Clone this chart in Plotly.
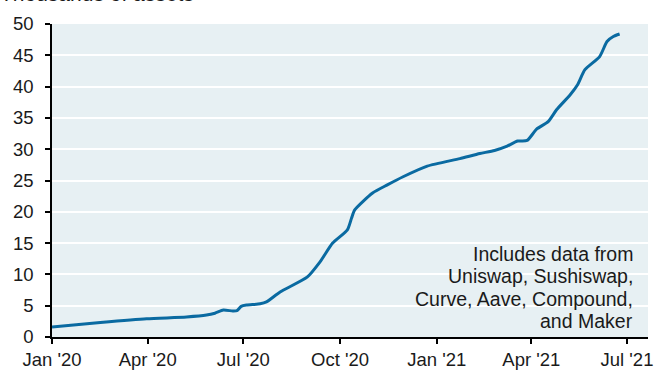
import plotly.graph_objects as go
import pandas as pd

dates = ["2020-01-01", "2020-02-16", "2020-03-31", "2020-05-08", "2020-05-27", "2020-06-04",
         "2020-06-12", "2020-06-21", "2020-06-25", "2020-06-29", "2020-07-04", "2020-07-17",
         "2020-07-23", "2020-08-05", "2020-08-31", "2020-09-12", "2020-09-24", "2020-10-08",
         "2020-10-12", "2020-10-15", "2020-11-01", "2020-11-15", "2020-11-30", "2020-12-23",
         "2021-01-23", "2021-02-11", "2021-02-25", "2021-03-09", "2021-03-19", "2021-03-28",
         "2021-04-06", "2021-04-17", "2021-04-25", "2021-05-08", "2021-05-15", "2021-05-22",
         "2021-06-05", "2021-06-12", "2021-06-18", "2021-06-24"]
assets = [1.6, 2.3, 2.9, 3.2, 3.5, 3.8,
          4.3, 4.15, 4.2, 4.9, 5.1, 5.3,
          5.6, 7.2, 9.6, 12.0, 15.0, 17.1,
          19.0, 20.3, 23.0, 24.3, 25.6, 27.3,
          28.5, 29.3, 29.8, 30.5, 31.3, 31.4,
          33.2, 34.4, 36.3, 38.7, 40.3, 42.7,
          44.8, 47.2, 48.0, 48.4]

y_ticks = [0, 5, 10, 15, 20, 25, 30, 35, 40, 45, 50]
title_text = "Thousands of assets"
note_lines = ["Includes data from", "Uniswap, Sushiswap,", "Curve, Aave, Compound,", "and Maker"]

W, H = 657, 371
ML, MR, MT, MB = 52, 9, 24, 34
PW, PH = W - ML - MR, H - MT - MB

fam = "Liberation Sans, Arial, sans-serif"
tick_font = dict(family=fam, size=18.5, color="#1a1a1a")
note_font = dict(family=fam, size=19.5, color="#1a1a1a")
title_font = dict(family=fam, size=21, color="#1a1a1a")

fig = go.Figure()
fig.add_trace(go.Scatter(
    x=pd.to_datetime(dates), y=assets, mode="lines",
    line=dict(color="#0A6AA1", width=3, shape="spline", smoothing=0.6),
    hoverinfo="skip", showlegend=False))

def py(pix):
    return (H - MB - pix) / PH

annotations = [dict(text=title_text, xref="paper", yref="paper", x=-ML / PW - 0.004, y=py(7),
                    xanchor="left", yanchor="bottom", showarrow=False, font=title_font)]
for i, line in enumerate(note_lines):
    annotations.append(dict(text=line, xref="paper", yref="paper", x=(634 - ML) / PW,
                            y=py(253.7 + 22.4 * i), xanchor="right", yanchor="middle",
                            showarrow=False, font=note_font, borderpad=0))

fig.update_layout(
    width=W, height=H,
    margin=dict(l=ML, r=MR, t=MT, b=MB, autoexpand=False),
    paper_bgcolor="white", plot_bgcolor="#E7F0F3",
    font=tick_font,
    xaxis=dict(
        type="date", range=["2020-01-01", "2021-07-21"], automargin=False,
        tick0="2020-01-01", dtick="M3", tickformat="%b '%y",
        showgrid=False, showline=True, linecolor="black", linewidth=1.5,
        ticks="outside", ticklen=5, tickcolor="black", tickwidth=1.5,
        zeroline=False, tickfont=tick_font),
    yaxis=dict(
        range=[0, 50], tickvals=y_ticks, automargin=False,
        showgrid=True, gridcolor="white", gridwidth=1.5,
        showline=True, linecolor="black", linewidth=1.5,
        ticks="outside", ticklen=5, tickcolor="black", tickwidth=1.5,
        ticklabelstandoff=8,
        zeroline=False, tickfont=tick_font),
    annotations=annotations,
)

fig.write_html("out.html", config={"displayModeBar": False},
               post_script="document.body.style.margin='0';document.body.style.overflow='hidden';")
